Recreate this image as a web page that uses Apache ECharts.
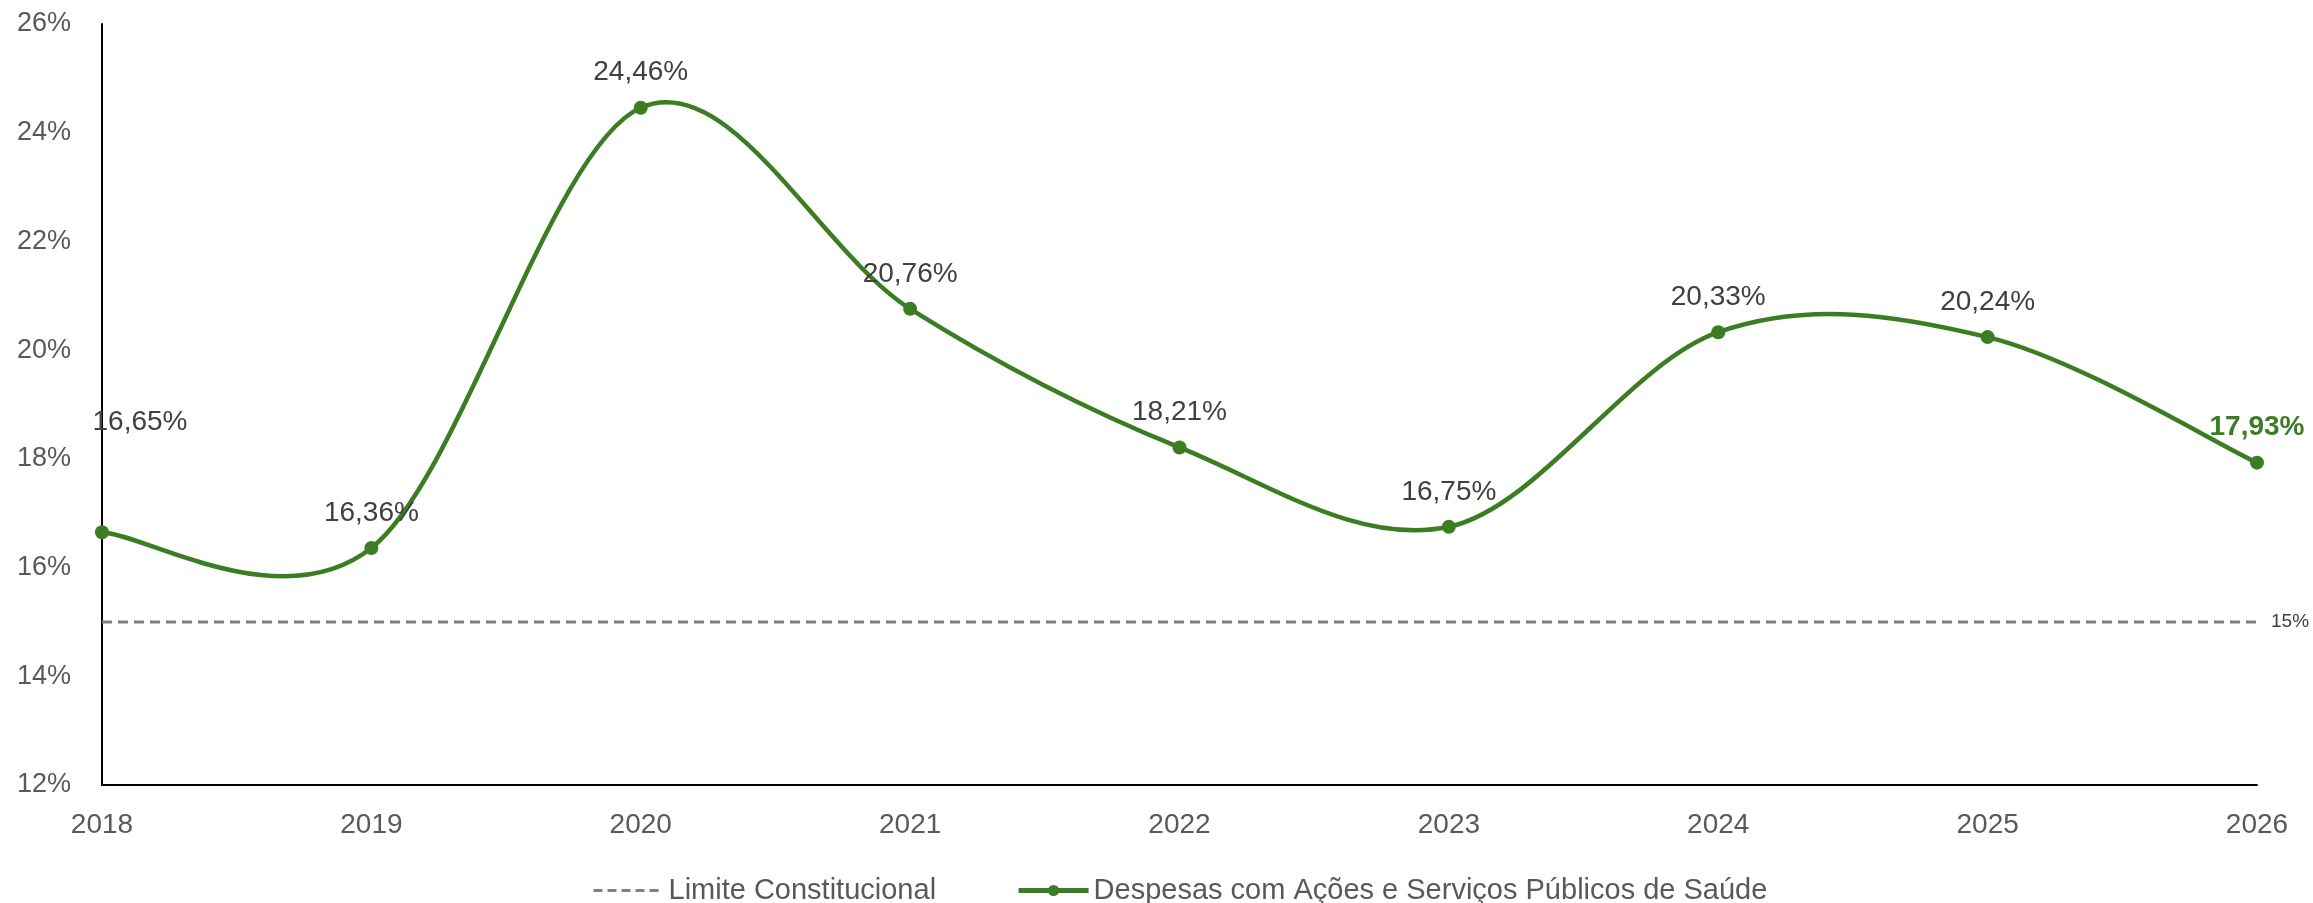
<!DOCTYPE html>
<html>
<head>
<meta charset="utf-8">
<script src="https://cdn.jsdelivr.net/npm/echarts@6/dist/echarts.min.js"></script>
<style>
html,body{margin:0;padding:0;background:#fff;}
#chart{width:2313px;height:903px;}
</style>
</head>
<body>
<div id="chart"></div>
<script>
const years = ['2018','2019','2020','2021','2022','2023','2024','2025','2026'];
const despesas = [16.65, 16.36, 24.46, 20.76, 18.21, 16.75, 20.33, 20.24, 17.93];
const limite = [15, 15, 15, 15, 15, 15, 15, 15, 15];
const yTicks = { min: 12, max: 26, interval: 2 };
const nomeLimite = 'Limite Constitucional';
const nomeDespesas = 'Despesas com Ações e Serviços Públicos de Saúde';

const green = '#3A7D22';
const grey = '#808080';
const fmt = v => v.toFixed(2).replace('.', ',') + '%';

const despesasData = despesas.map((v, i) => {
  const item = { value: v };
  if (i === 0) {
    item.label = { offset: [38, -75] };
  }
  if (i === despesas.length - 1) {
    item.label = { fontWeight: 'bold', color: green };
  }
  return item;
});

// Smoothed curve (Catmull-Rom style, like spreadsheet smoothing) drawn
// segment by segment from the data through the axis scales (api.coord).
function renderCurve(params, api) {
  const i = params.dataIndex;
  const n = despesas.length;
  if (i >= n - 1) return null;
  const pt = k => api.coord([Math.max(0, Math.min(n - 1, k)), despesas[Math.max(0, Math.min(n - 1, k))]]);
  const p0 = pt(i - 1), p1 = pt(i), p2 = pt(i + 1), p3 = pt(i + 2);
  const f = 1 / 6;
  return {
    type: 'bezierCurve',
    shape: {
      x1: p1[0], y1: p1[1],
      x2: p2[0], y2: p2[1],
      cpx1: p1[0] + (p2[0] - p0[0]) * f,
      cpy1: p1[1] + (p2[1] - p0[1]) * f,
      cpx2: p2[0] - (p3[0] - p1[0]) * f,
      cpy2: p2[1] - (p3[1] - p1[1]) * f
    },
    style: { stroke: green, lineWidth: 4.5, fill: null, lineCap: 'round' },
    silent: true
  };
}

const chart = echarts.init(document.getElementById('chart'), null, { renderer: 'canvas' });
chart.setOption({
  backgroundColor: '#ffffff',
  animation: false,
  textStyle: { fontFamily: 'Liberation Sans' },
  grid: { left: 102, right: 56, top: 24, bottom: 118, containLabel: false },
  legend: {
    left: 587,
    top: 871,
    itemWidth: 70,
    itemHeight: 14,
    itemGap: 80,
    textStyle: { fontSize: 29, color: '#595959', fontFamily: 'Liberation Sans' },
    data: [
      { name: nomeLimite, itemStyle: { opacity: 0 }, lineStyle: { color: grey, width: 3, type: [9, 5], opacity: 1 } },
      { name: nomeDespesas, itemStyle: { color: green, opacity: 1 }, lineStyle: { color: green, width: 5, opacity: 1 } }
    ]
  },
  xAxis: {
    type: 'category',
    data: years,
    boundaryGap: false,
    axisLine: { show: true, lineStyle: { color: '#000000', width: 2 } },
    axisTick: { show: false },
    axisLabel: { fontSize: 28, color: '#595959', margin: 26 },
    splitLine: { show: false }
  },
  yAxis: {
    type: 'value',
    min: yTicks.min,
    max: yTicks.max,
    interval: yTicks.interval,
    axisLine: { show: true, lineStyle: { color: '#000000', width: 2 } },
    axisTick: { show: false },
    axisLabel: { fontSize: 27, color: '#595959', margin: 31, formatter: '{value}%' },
    splitLine: { show: false }
  },
  series: [
    {
      name: nomeLimite,
      type: 'line',
      data: limite,
      symbol: 'none',
      showSymbol: false,
      silent: true,
      color: grey,
      lineStyle: { color: grey, width: 3, type: [10, 6] },
      endLabel: { show: true, formatter: '15%', fontSize: 19, color: '#404040', distance: 14 },
      z: 1
    },
    {
      name: 'curva',
      type: 'custom',
      renderItem: renderCurve,
      data: despesas.map((v, i) => [i, v]),
      encode: { x: 0, y: 1 },
      silent: true,
      z: 2
    },
    {
      name: nomeDespesas,
      type: 'line',
      data: despesasData,
      symbol: 'circle',
      symbolSize: 14,
      color: green,
      itemStyle: { color: green },
      lineStyle: { color: green, width: 4.5, opacity: 0 },
      label: {
        show: true,
        position: 'top',
        distance: 14,
        fontSize: 28,
        color: '#404040',
        formatter: p => fmt(p.value)
      },
      z: 3
    }
  ]
});
</script>
</body>
</html>
